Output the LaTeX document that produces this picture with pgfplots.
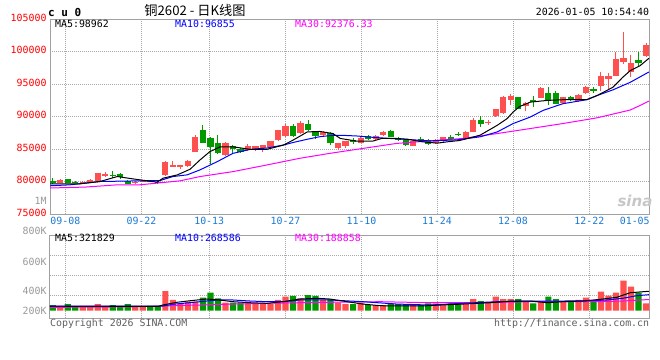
\documentclass[border=0pt]{standalone}
\usepackage{pgfplots}
\pgfplotsset{compat=1.18}
\usepackage{pgfplotstable}
\usepackage{fontspec}
\setmainfont{DejaVu Sans Mono}
\newfontfamily\mono{DejaVu Sans Mono}
\newfontfamily\sansf{DejaVu Sans}
\newfontfamily\cjk{Noto Sans CJK SC}
\definecolor{upc}{HTML}{FF5050}
\definecolor{dnc}{HTML}{009900}
\definecolor{framec}{HTML}{A0A0A0}
\definecolor{gridc}{HTML}{A8A8A8}
\definecolor{tickblue}{HTML}{1A7AD6}
\definecolor{magc}{HTML}{FF00FF}
\definecolor{lblgray}{HTML}{999999}
\definecolor{foot}{HTML}{606060}
\newcommand{\lf}{\fontsize{9.9bp}{11bp}\selectfont}

\pgfplotstableread{
i o h l c v
1 79840 80350 79750 80250 78
4 79800 80050 79750 80000 78
5 79950 80350 79900 80250 78
6 80150 81350 80100 81280 110
7 80860 81400 80700 81120 78
11 79700 80100 79650 80000 78
12 79950 80250 79900 80150 78
15 81050 83100 80850 83000 325
16 82350 83200 82200 82550 177
17 82300 82600 81950 82550 122
18 82400 83250 82280 83200 149
19 84570 87230 84500 86870 149
23 84070 86050 84000 85860 132
26 84830 85700 84750 85440 149
27 85000 85500 84750 85440 110
28 85100 85650 84570 85600 110
29 85340 86300 85250 86200 110
30 86360 88000 86300 87890 177
31 86970 88800 86900 88500 231
33 87400 89300 87300 89000 205
36 87200 87750 87000 87550 177
38 85090 86000 84900 85860 132
39 85440 86300 85200 86210 110
41 86000 86800 85900 86700 132
43 86500 87100 86400 87000 94
44 87230 87700 87000 87630 94
48 85500 86300 85400 86250 110
51 85860 86550 85800 86450 122
52 86200 86900 86100 86800 110
55 86620 87700 86550 87630 122
56 87630 89770 87600 89520 193
58 89050 89520 88700 89150 144
59 90030 91200 89950 91090 231
60 90530 93190 90450 92970 193
61 92500 93400 91800 93200 193
63 91550 92300 90800 92050 160
65 92900 94550 92800 94450 149
68 92150 93050 92050 92950 160
70 92400 93450 92300 93350 177
71 93550 94700 93450 94600 215
73 94760 96900 93850 96180 314
74 95800 96640 94150 96290 248
75 96290 99850 96200 98830 297
76 98330 102980 98100 98940 495
77 96900 99430 96030 98170 396
79 99350 101300 99080 101020 122
}\up

\pgfplotstableread{
i o h l c v
0 80150 80560 79650 79750 94
2 80360 80450 79700 79750 110
3 79950 80050 79850 79900 70
8 81060 81580 80600 80900 94
9 81220 81300 80360 80760 78
10 80150 80200 79550 79600 110
13 80150 80250 79850 79950 78
14 80000 80100 79650 79750 78
20 87990 88700 85850 85950 215
21 86670 86870 82700 85250 297
22 85950 87080 84180 84330 205
24 85440 85640 84330 85030 132
25 84990 85100 84400 84500 132
32 88600 88800 86900 87000 243
34 88900 89400 87800 87900 259
35 87550 87750 86500 86950 243
37 87530 87600 85600 86000 188
40 86450 86700 85800 86100 110
42 87000 87150 86400 86500 94
45 87740 88000 86800 86870 122
46 86700 86800 86300 86400 110
47 86360 86450 85500 85600 110
49 86600 86800 86100 86300 94
50 86450 86500 85600 85700 122
53 86850 87200 86400 86650 122
54 87380 87550 86950 87100 122
57 89500 90020 88390 88900 160
62 92970 93050 91100 91200 193
64 92470 93200 91500 92300 122
66 93600 94600 91700 92500 231
67 93600 93900 91900 92000 193
69 92950 93150 92450 92850 160
72 94150 94500 93650 94050 160
78 98730 99950 97550 98170 297
}\dn

\pgfplotsset{
  candlewick/.style={draw=none, mark=none, forget plot,
    error bars/.cd, y dir=both, y explicit, error mark=none,
    error bar style={draw=#1, line width=1bp}},
  candlebody/.style={draw=none, mark=none, forget plot,
    error bars/.cd, y dir=both, y explicit, error mark=none,
    error bar style={draw=#1, line width=6.2bp}},
}

\begin{document}
\begin{tikzpicture}
\fill[white] (0,0) rectangle (660bp,-360bp);
\path[use as bounding box] (0,0) rectangle (660bp,-360bp);

% ---------------- main price panel ----------------
\begin{axis}[
  at={(50bp,-214bp)}, anchor=south west,
  scale only axis, width=599bp, height=195bp,
  xmin=-0.36, xmax=79.4, ymin=75000, ymax=105000,
  scaled y ticks=false, scaled x ticks=false,
  axis line style={framec, line width=1bp},
  ytick={75000,80000,85000,90000,95000,100000,105000},
  yticklabels={75000,80000,85000,90000,95000,100000,105000},
  xtick={1.68,11.82,20.84,31.0,41.12,51.17,61.29,71.46},
  xticklabels={09-08,09-22,10-13,10-27,11-10,11-24,12-08,12-22},
  extra x ticks={77.5}, extra x tick labels={01-05},
  extra x tick style={grid=none},
  major tick length=0pt,
  grid=major,
  grid style={gridc, line width=0.9bp, dash pattern=on 1bp off 1bp},
  xticklabel style={font=\lf, text=tickblue, anchor=north, inner sep=0pt, yshift=-2.5bp},
  yticklabel style={font=\lf, text=red, anchor=east, inner sep=0pt, xshift=-3.3bp, yshift=1.5bp},
]
% wicks
\addplot[candlewick=upc] table[x=i, y expr={(\thisrow{h}+\thisrow{l})/2}, y error expr={(\thisrow{h}-\thisrow{l})/2}] {\up};
\addplot[candlewick=dnc] table[x=i, y expr={(\thisrow{h}+\thisrow{l})/2}, y error expr={(\thisrow{h}-\thisrow{l})/2}] {\dn};
% bodies
\addplot[candlebody=upc] table[x=i, y expr={(\thisrow{o}+\thisrow{c})/2}, y error expr={max(abs(\thisrow{c}-\thisrow{o})/2,75)}] {\up};
\addplot[candlebody=dnc] table[x=i, y expr={(\thisrow{o}+\thisrow{c})/2}, y error expr={max(abs(\thisrow{c}-\thisrow{o})/2,75)}] {\dn};
% MA30
\addplot[magc, line width=1bp, mark=none] coordinates {
(-0.36,79000) (4.3,79140) (8.6,79490) (11.6,79490) (13.9,79750) (16.95,80100)
(19.6,80760) (24.0,81520) (28.5,82540) (32.9,83570) (36.9,84330) (41.3,85090)
(45.8,85860) (50.2,86250) (54.6,86620) (59.2,87380) (63.6,88150) (67.9,88910)
(72.5,89800) (76.9,91000) (78.4,91800) (79.4,92376)};
% MA10
\addplot[blue, line width=1bp, mark=none] coordinates {
(-0.36,79340) (2.3,79490) (6.3,80000) (11.6,80100) (14.3,80150) (16.0,80760)
(17.9,81020) (19.6,81780) (21.9,83050) (24.0,84330) (26.3,84940) (28.5,85150)
(30.7,85600) (32.0,86000) (33.9,86500) (35.6,86900) (37.3,87100) (38.7,87100)
(40.5,87000) (42.6,86800) (44.9,86620) (47.2,86470) (50.2,86250) (53.8,86400)
(56.9,86870) (59.2,87630) (61.3,88910) (63.6,89920) (65.3,90940) (67.9,91960)
(71.1,92580) (72.5,93230) (74.6,94100) (76.9,95260) (79.4,96855)};
% MA5
\addplot[black, line width=1bp, mark=none] coordinates {
(-0.36,79640) (3.6,79640) (6.3,80000) (8.6,80760) (10.7,80400) (12.6,80100)
(13.9,79900) (14.7,80510) (16.6,81020) (18.3,81890) (19.6,83300) (20.9,84570)
(22.3,85340) (24.0,85340) (26.3,84940) (28.5,84940) (30.7,85600) (32.0,86360)
(33.9,87630) (35.6,87700) (37.3,87380) (38.3,86620) (40.5,86210) (42.6,86210)
(43.8,86620) (45.8,86620) (47.2,86510) (49.3,86100) (51.2,85900) (52.5,86100)
(54.2,86310) (56.9,87120) (59.2,88650) (60.5,89670) (61.3,90680) (62.2,91550)
(63.6,92210) (65.8,92470) (67.9,92580) (70.2,92620) (71.1,92580) (72.5,93230)
(74.6,94500) (75.9,96030) (76.9,97050) (78.2,97810) (79.4,98962)};
\end{axis}

% ---------------- volume panel ----------------
\begin{axis}[
  at={(50bp,-318.3bp)}, anchor=south west,
  scale only axis, width=599bp, height=83.3bp,
  xmin=-0.36, xmax=79.4, ymin=-125, ymax=1249,
  scaled y ticks=false, scaled x ticks=false,
  axis line style={framec, line width=1bp},
  ytick={247.5,589,919}, yticklabels={,,},
  extra y ticks={0,325,808}, extra y tick labels={200K,400K,600K},
  extra y tick style={grid=none},
  xtick={1.68,11.82,20.84,31.0,41.12,51.17,61.29,71.46},
  xticklabels={,,,,,,,},
  major tick length=0pt,
  grid=major,
  grid style={gridc, line width=0.9bp, dash pattern=on 1bp off 1bp},
  yticklabel style={font=\lf, text=lblgray, anchor=east, inner sep=0pt, xshift=-3.3bp},
]
\addplot[ybar, bar width=6.2bp, bar shift=0pt, fill=upc, draw=none, forget plot] table[x=i, y=v] {\up};
\addplot[ybar, bar width=6.2bp, bar shift=0pt, fill=dnc, draw=none, forget plot] table[x=i, y=v] {\dn};
% vol MA30
\addplot[magc, line width=1bp, mark=none] coordinates {
(-0.36,56) (6.3,60) (11.6,66) (14.3,78) (19.6,94) (24,110) (28.5,122) (32.9,132)
(36.9,139) (43.6,149) (50.2,132) (56.9,132) (63.6,149) (67.9,149) (72.5,149)
(75.9,160) (79.4,185)};
% vol MA10
\addplot[blue, line width=1bp, mark=none] coordinates {
(-0.36,74) (14,74) (14.7,78) (16.0,106) (19.6,149) (21.9,177) (24,177) (26.3,160)
(28.5,149) (30.7,149) (32.9,177) (36.9,177) (41.3,149) (45.8,110) (50.2,94)
(54.6,122) (59.2,149) (63.6,160) (67.9,160) (71.5,165) (73.8,177) (75.9,205)
(77.8,248) (79.4,265)};
% vol MA5
\addplot[black, line width=1bp, mark=none] coordinates {
(-0.36,70) (14,70) (14.7,95) (16.6,140) (18.3,165) (20.5,193) (22,180) (24,149)
(26.3,132) (28.5,122) (30.7,149) (32.9,193) (35.2,205) (36.9,193) (39.2,149)
(41.3,110) (43.6,83) (45.8,78) (49.3,78) (51.6,94) (54.6,110) (58.2,132)
(61.3,160) (63.6,160) (65.8,132) (67.9,149) (70.6,160) (72.9,188) (75.1,221)
(76.9,297) (79.4,321)};
\end{axis}

% ---------------- texts ----------------
\node[anchor=base west, inner sep=0pt, font=\mono\bfseries\fontsize{11bp}{12bp}\selectfont] at (48bp,-16bp) {c u 0};
\node[anchor=base, inner sep=0pt, font=\cjk\fontsize{13.2bp}{14bp}\selectfont] at (195bp,-15bp) {铜2602 - 日K线图};
\node[anchor=base east, inner sep=0pt, font=\lf] at (649.3bp,-15bp) {2026-01-05 10:54:40};

\node[anchor=base west, inner sep=0pt, font=\lf] at (55bp,-27.5bp) {MA5:98962};
\node[anchor=base west, inner sep=0pt, font=\lf, text=blue] at (175bp,-27.5bp) {MA10:96855};
\node[anchor=base west, inner sep=0pt, font=\lf, text=magc] at (295bp,-27.5bp) {MA30:92376.33};

\node[anchor=base east, inner sep=0pt, font=\lf, text=lblgray] at (46.7bp,-204bp) {1M};
\node[anchor=base east, inner sep=0pt, font=\lf, text=lblgray] at (46.7bp,-234.5bp) {800K};

\node[anchor=base west, inner sep=0pt, font=\lf] at (55bp,-241bp) {MA5:321829};
\node[anchor=base west, inner sep=0pt, font=\lf, text=blue] at (175bp,-241bp) {MA10:268586};
\node[anchor=base west, inner sep=0pt, font=\lf, text=magc] at (295bp,-241bp) {MA30:188858};

\node[anchor=base west, inner sep=0pt, font=\lf, text=foot] at (50bp,-326bp) {Copyright 2026 SINA.COM};
\node[anchor=base east, inner sep=0pt, font=\lf, text=foot] at (649.3bp,-326bp) {http://finance.sina.com.cn};

\node[anchor=base, inner sep=0pt, font=\sansf\bfseries\itshape\fontsize{15bp}{16bp}\selectfont, text=black!22] at (635bp,-206bp) {sina};
\end{tikzpicture}
\end{document}
